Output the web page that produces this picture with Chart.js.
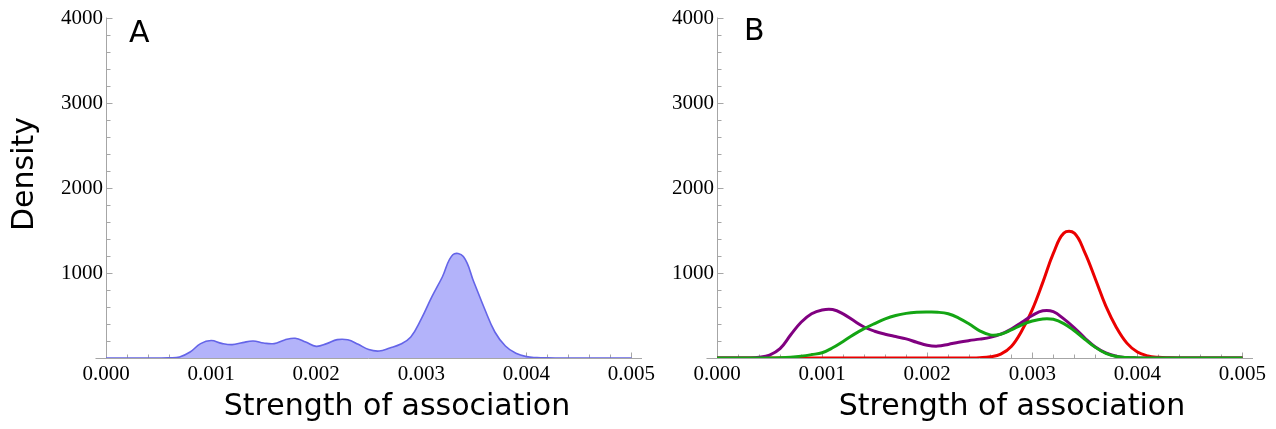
<!DOCTYPE html>
<html>
<head>
<meta charset="utf-8">
<script src="https://cdn.jsdelivr.net/npm/chart.js@4.4.1/dist/chart.umd.min.js"></script>
<style>
  html, body { margin: 0; padding: 0; background: #ffffff; }
  #wrap { position: relative; width: 1276px; height: 429px; overflow: hidden; }
  canvas { position: absolute; top: 0; }
  #cA { left: 0; }
  #cB { left: 660px; }
</style>
</head>
<body>
<div id="wrap">
  <canvas id="cA" width="660" height="429"></canvas>
  <canvas id="cB" width="616" height="429"></canvas>
</div>
<script>
// ---------------- DATA ----------------
// x grid (strength of association), step 0.0001 from 0 to 0.005
const strength = [
  0.0000,0.0001,0.0002,0.0003,0.0004,0.0005,0.0006,0.0007,0.0008,0.0009,
  0.0010,0.0011,0.0012,0.0013,0.0014,0.0015,0.0016,0.0017,0.0018,0.0019,
  0.0020,0.0021,0.0022,0.0023,0.0024,0.0025,0.0026,0.0027,0.0028,0.0029,
  0.0030,0.0031,0.0032,0.0033,0.0034,0.0035,0.0036,0.0037,0.0038,0.0039,
  0.0040,0.0041,0.0042,0.0043,0.0044,0.0045,0.0046,0.0047,0.0048,0.0049,
  0.0050
];
// Panel A: overall density
const densityA = [
  0,0,0,0,0,0,2,12,70,169,
  205,172,157,181,200,176,169,212,232,188,
  137,169,216,214,161,99,82,118,161,247,
  460,718,953,1215,1195,894,585,306,141,55,
  16,5,1,0,0,0,0,0,0,0,
  0
];
// Panel B: three component densities
const densityRed = [
  0,0,0,0,0,0,0,0,0,0,
  0,0,0,0,0,0,0,0,0,0,
  0,0,0,0,1,4,14,45,135,320,
  570,890,1230,1470,1470,1240,930,610,360,175,
  70,25,8,2,0,0,0,0,0,0,
  0
];
const densityPurple = [
  0,0,0,0,8,35,110,270,420,520,
  565,570,520,440,365,315,280,252,225,185,
  150,140,160,185,205,222,243,280,340,420,
  500,555,545,460,355,235,130,60,20,5,
  1,0,0,0,0,0,0,0,0,0,
  0
];
const densityGreen = [
  0,0,0,0,0,0,3,10,22,40,
  62,120,195,275,345,405,460,500,525,537,
  540,538,520,470,400,320,272,280,330,390,
  435,460,455,405,320,220,125,55,18,5,
  1,0,0,0,0,0,0,0,0,0,
  0
];
// tick labels
const xTickValues = [0, 0.001, 0.002, 0.003, 0.004, 0.005];
const yTickValues = [1000, 2000, 3000, 4000];
const xAxisTitle = 'Strength of association';
const yAxisTitle = 'Density';
const panelLabels = ['A', 'B'];

// ---------------- STYLE ----------------
const AXIS_COLOR = '#a6a6a6';
const SANS = "'DejaVu Sans', sans-serif";
const SERIF = "'Liberation Serif', 'Times New Roman', serif";

function pts(ys) { return strength.map((x, i) => ({ x: x, y: ys[i] })); }

// Axis lines and inward ticks (Mathematica-like frame)
const axisDeco = {
  id: 'axisDeco',
  beforeDatasetsDraw(chart) {
    const { ctx, chartArea: { right }, scales: { x, y } } = chart;
    ctx.save();
    ctx.strokeStyle = AXIS_COLOR;
    ctx.lineWidth = 1;
    const by = Math.round(y.getPixelForValue(0)) + 0.5;
    const ax = Math.round(x.getPixelForValue(0)) + 0.5;
    ctx.beginPath();
    ctx.moveTo(x.getPixelForValue(-0.0001), by);
    ctx.lineTo(right, by);
    ctx.stroke();
    ctx.beginPath();
    ctx.moveTo(ax, by);
    ctx.lineTo(ax, Math.round(y.getPixelForValue(4000)) - 0.5);
    ctx.stroke();
    for (let k = 0; k <= 25; k++) {
      const px = Math.round(x.getPixelForValue(k * 0.0002)) + 0.5;
      const len = (k % 5 === 0) ? 6 : 4;
      ctx.beginPath(); ctx.moveTo(px, by); ctx.lineTo(px, by - len); ctx.stroke();
    }
    for (let k = 0; k <= 20; k++) {
      const py = Math.round(y.getPixelForValue(k * 200)) + 0.5;
      const len = (k % 5 === 0) ? 6 : 4;
      ctx.beginPath(); ctx.moveTo(ax, py); ctx.lineTo(ax + len, py); ctx.stroke();
    }
    ctx.restore();
  },
  afterDraw(chart, args, opts) {
    const { ctx } = chart;
    ctx.save();
    ctx.fillStyle = '#000';
    ctx.font = '30px ' + SANS;
    ctx.textAlign = 'left';
    ctx.textBaseline = 'alphabetic';
    ctx.fillText(opts.letter, opts.letterX, opts.letterY);
    ctx.textAlign = 'center';
    ctx.fillText(xAxisTitle, opts.titleX, 415);
    if (opts.showY) {
      ctx.translate(33, 174);
      ctx.rotate(-Math.PI / 2);
      ctx.fillText(yAxisTitle, 0, 0);
    }
    ctx.restore();
  }
};

function makeOptions(yWidth, padRight, deco) {
  return {
    responsive: false,
    animation: false,
    devicePixelRatio: 1,
    layout: { padding: { top: 18, right: padRight, left: 0, bottom: 0 } },
    plugins: { legend: { display: false }, tooltip: { enabled: false }, axisDeco: deco },
    elements: { point: { radius: 0 }, line: { tension: 0.4 } },
    scales: {
      x: {
        type: 'linear', min: 0, max: 0.0051,
        grid: { display: false, drawTicks: false },
        border: { display: false },
        afterBuildTicks: s => { s.ticks = xTickValues.map(v => ({ value: v })); },
        afterFit: s => { s.height = 71; },
        ticks: {
          autoSkip: false, maxRotation: 0, padding: 4, color: '#000',
          font: { family: SERIF, size: 21 },
          callback: v => Number(v).toFixed(3)
        }
      },
      y: {
        type: 'linear', min: 0, max: 4000,
        grid: { display: false, drawTicks: false },
        border: { display: false },
        afterBuildTicks: s => { s.ticks = yTickValues.map(v => ({ value: v })); },
        afterFit: s => { s.width = yWidth; },
        ticks: {
          padding: 3, color: '#000',
          font: { family: SERIF, size: 21 },
          callback: v => String(v)
        }
      }
    }
  };
}

new Chart(document.getElementById('cA'), {
  type: 'line',
  data: {
    datasets: [{
      data: pts(densityA),
      borderColor: 'rgb(100,100,232)',
      backgroundColor: 'rgb(179,179,250)',
      borderWidth: 1.6,
      fill: 'origin'
    }]
  },
  options: makeOptions(106, 18, { letter: panelLabels[0], letterX: 129, letterY: 42, titleX: 397, showY: true }),
  plugins: [axisDeco]
});

new Chart(document.getElementById('cB'), {
  type: 'line',
  data: {
    datasets: [
      { data: pts(densityGreen), borderColor: 'rgb(20,165,20)', borderWidth: 3, fill: false },
      { data: pts(densityPurple), borderColor: 'rgb(128,0,128)', borderWidth: 3, fill: false },
      { data: pts(densityRed), borderColor: 'rgb(235,0,0)', borderWidth: 3, fill: false }
    ]
  },
  options: makeOptions(57, 23, { letter: panelLabels[1], letterX: 84, letterY: 40, titleX: 352, showY: false }),
  plugins: [axisDeco]
});
</script>
</body>
</html>
